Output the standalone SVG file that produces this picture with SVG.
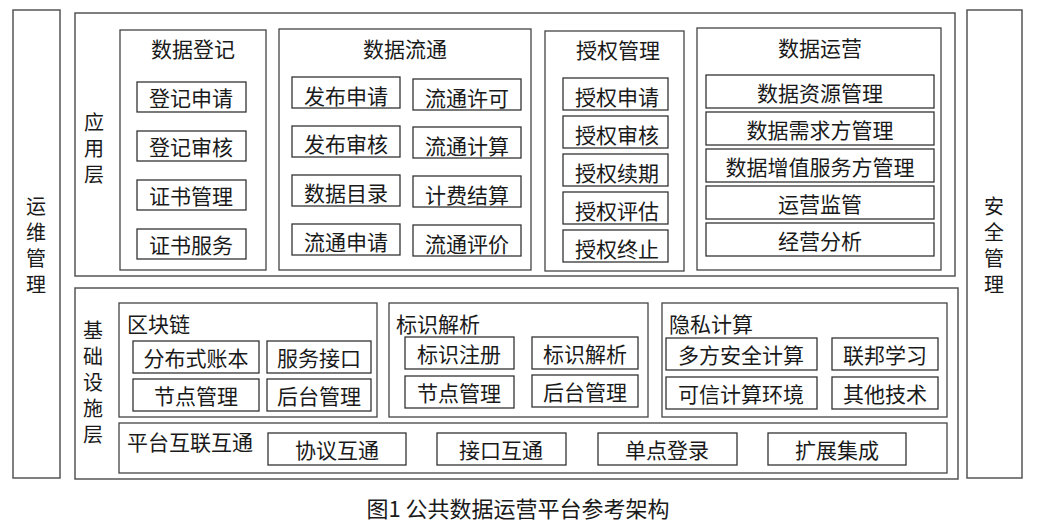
<svg xmlns="http://www.w3.org/2000/svg" width="1040" height="530" viewBox="0 0 1040 530">
<style>
text{font-family:"Noto Sans CJK SC","Liberation Sans",sans-serif;fill:#1a1a1a;font-size:21px}
.c{text-anchor:middle;dominant-baseline:central}
.l{dominant-baseline:central}
.v{font-size:20px;writing-mode:vertical-rl;text-anchor:middle;letter-spacing:6px}
.o{fill:#fff;stroke:#555;stroke-width:1.5}
.g{fill:#fff;stroke:#444;stroke-width:1.3}
.b{fill:#fff;stroke:#333;stroke-width:1.3}
</style>
<rect width="1040" height="530" fill="#fff"/>
<g id="ops"><rect class="o" x="13" y="10" width="47" height="468"/><text class="v" x="36" y="248">运维管理</text></g>
<g id="sec"><rect class="o" x="967" y="10" width="55" height="468"/><text class="v" x="994" y="248">安全管理</text></g>
<g id="app"><rect class="o" x="75" y="13" width="880" height="263"/><text class="v" x="94" y="151">应用层</text></g>
<g id="reg"><rect class="g" x="120" y="30" width="146" height="240"/><text class="c" x="193" y="48">数据登记</text>
<rect class="b" x="137" y="82" width="109" height="30"/><text class="c" x="191" y="97">登记申请</text>
<rect class="b" x="137" y="131" width="109" height="30"/><text class="c" x="191" y="146">登记审核</text>
<rect class="b" x="137" y="180" width="109" height="30"/><text class="c" x="191" y="195">证书管理</text>
<rect class="b" x="137" y="229" width="109" height="30"/><text class="c" x="191" y="244">证书服务</text></g>
<g id="flow"><rect class="g" x="279" y="29" width="252" height="241"/><text class="c" x="405" y="48">数据流通</text>
<rect class="b" x="292" y="77" width="108" height="31"/><text class="c" x="346" y="95">发布申请</text>
<rect class="b" x="413" y="79" width="108" height="31"/><text class="c" x="467" y="97">流通许可</text>
<rect class="b" x="292" y="126" width="108" height="31"/><text class="c" x="346" y="143">发布审核</text>
<rect class="b" x="413" y="127" width="108" height="31"/><text class="c" x="467" y="145">流通计算</text>
<rect class="b" x="292" y="175" width="108" height="31"/><text class="c" x="346" y="192">数据目录</text>
<rect class="b" x="413" y="176" width="108" height="31"/><text class="c" x="467" y="194">计费结算</text>
<rect class="b" x="292" y="224" width="108" height="31"/><text class="c" x="346" y="241">流通申请</text>
<rect class="b" x="413" y="225" width="108" height="31"/><text class="c" x="467" y="243">流通评价</text></g>
<g id="auth"><rect class="g" x="545" y="31" width="139" height="240"/><text class="c" x="618" y="49">授权管理</text>
<rect class="b" x="563" y="78" width="105" height="32"/><text class="c" x="617" y="96">授权申请</text>
<rect class="b" x="563" y="116" width="105" height="32"/><text class="c" x="617" y="134">授权审核</text>
<rect class="b" x="563" y="154" width="105" height="32"/><text class="c" x="617" y="172">授权续期</text>
<rect class="b" x="563" y="192" width="105" height="32"/><text class="c" x="617" y="210">授权评估</text>
<rect class="b" x="563" y="230" width="105" height="32"/><text class="c" x="617" y="248">授权终止</text></g>
<g id="opr"><rect class="g" x="697" y="28" width="244" height="242"/><text class="c" x="820" y="47">数据运营</text>
<rect class="b" x="706" y="75" width="228" height="33"/><text class="c" x="820" y="92">数据资源管理</text>
<rect class="b" x="706" y="112" width="228" height="33"/><text class="c" x="820" y="129">数据需求方管理</text>
<rect class="b" x="706" y="149" width="228" height="33"/><text class="c" x="820" y="166">数据增值服务方管理</text>
<rect class="b" x="706" y="186" width="228" height="33"/><text class="c" x="820" y="203">运营监管</text>
<rect class="b" x="706" y="223" width="228" height="33"/><text class="c" x="820" y="240">经营分析</text></g>
<g id="infra"><rect class="o" x="75" y="288" width="883" height="191"/><text class="v" x="93" y="385">基础设施层</text></g>
<g id="chain"><rect class="g" x="119" y="303" width="258" height="114"/><text class="l" x="127" y="323">区块链</text>
<rect class="b" x="133" y="341" width="126" height="32"/><text class="c" x="196" y="357">分布式账本</text>
<rect class="b" x="267" y="341" width="104" height="32"/><text class="c" x="319" y="357">服务接口</text>
<rect class="b" x="133" y="379" width="126" height="32"/><text class="c" x="196" y="395">节点管理</text>
<rect class="b" x="267" y="379" width="104" height="32"/><text class="c" x="319" y="395">后台管理</text></g>
<g id="ident"><rect class="g" x="389" y="303" width="259" height="114"/><text class="l" x="396" y="323">标识解析</text>
<rect class="b" x="405" y="337" width="109" height="32"/><text class="c" x="459" y="353">标识注册</text>
<rect class="b" x="532" y="337" width="106" height="32"/><text class="c" x="585" y="353">标识解析</text>
<rect class="b" x="405" y="376" width="109" height="32"/><text class="c" x="459" y="392">节点管理</text>
<rect class="b" x="532" y="375" width="106" height="32"/><text class="c" x="585" y="391">后台管理</text></g>
<g id="priv"><rect class="g" x="662" y="303" width="285" height="114"/><text class="l" x="669" y="323">隐私计算</text>
<rect class="b" x="666" y="338" width="151" height="32"/><text class="c" x="741" y="354">多方安全计算</text>
<rect class="b" x="832" y="338" width="106" height="32"/><text class="c" x="885" y="354">联邦学习</text>
<rect class="b" x="666" y="377" width="151" height="32"/><text class="c" x="741" y="393">可信计算环境</text>
<rect class="b" x="832" y="377" width="106" height="32"/><text class="c" x="885" y="393">其他技术</text></g>
<g id="interop"><rect class="g" x="119" y="423" width="828" height="50"/><text class="l" x="127" y="441">平台互联互通</text>
<rect class="b" x="268" y="433" width="138" height="32"/><text class="c" x="337" y="449">协议互通</text>
<rect class="b" x="437" y="433" width="129" height="32"/><text class="c" x="501" y="449">接口互通</text>
<rect class="b" x="598" y="433" width="139" height="32"/><text class="c" x="667" y="449">单点登录</text>
<rect class="b" x="768" y="433" width="138" height="32"/><text class="c" x="837" y="449">扩展集成</text></g>
<g id="connectors"></g>
<text class="c" x="518" y="507" style="font-size:22px">图1  公共数据运营平台参考架构</text>
</svg>
